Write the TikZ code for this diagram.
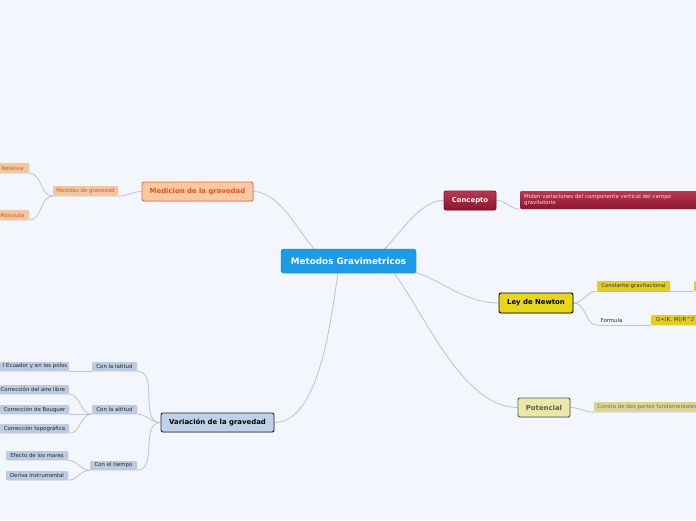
\documentclass[tikz,border=0pt]{standalone}
\usepackage{fontspec}
\setmainfont{DejaVu Sans}
\usetikzlibrary{positioning, calc, shadows, backgrounds}
\definecolor{mmbg}{HTML}{F3F6FD}
\definecolor{mmlink}{HTML}{BCC2D0}
\definecolor{mmblue}{HTML}{1E9AE6}
\definecolor{mmred}{HTML}{B3203C}
\definecolor{mmreddark}{HTML}{8C1530}
\definecolor{mmyellow}{HTML}{E6D61E}
\definecolor{mmyellowleaf}{HTML}{E2CE22}
\definecolor{mmpale}{HTML}{EEE8A8}
\definecolor{mmkhaki}{HTML}{DCD492}
\definecolor{mmpeach}{HTML}{F9C9A1}
\definecolor{mmorange}{HTML}{F06A3C}
\definecolor{mmorangetext}{HTML}{EE4F1E}
\definecolor{mmtan}{HTML}{EEC8A2}
\definecolor{mmsky}{HTML}{BFD0EA}
\definecolor{mmskyleaf}{HTML}{BDCBE2}

\begin{document}
\begin{tikzpicture}[
  x=1pt, y=-1pt,
  root/.style={rectangle, fill=mmblue, draw=mmblue!85!black, rounded corners=2.5pt, minimum width=135pt, minimum height=24pt, inner sep=0pt, text=white, font=\bfseries\fontsize{8.8}{10}\selectfont, drop shadow={shadow xshift=0.5pt, shadow yshift=-0.8pt, opacity=0.2}},
  topic/.style={rectangle, rounded corners=2pt, minimum height=19pt, inner sep=0pt, line width=0.9pt, font=\bfseries\fontsize{6.9}{8}\selectfont, drop shadow={shadow xshift=0.5pt, shadow yshift=-0.8pt, opacity=0.25}},
  plainleaf/.style={rectangle, minimum height=10pt, inner sep=0pt, font=\fontsize{5.4}{7}\selectfont},
  leaf/.style={plainleaf, rounded corners=1pt, drop shadow={shadow xshift=0.4pt, shadow yshift=-0.6pt, opacity=0.2}},
  bleaf/.style={leaf, fill=mmskyleaf, text=black!85, minimum height=9pt},
  link/.style={draw=mmlink, line width=0.8pt},
]
  % Canvas
  \begin{scope}[on background layer]
    \fill[mmbg] (0,0) rectangle (696,520);
  \end{scope}
  \useasboundingbox (0,0) rectangle (696,520);

  % Central topic
  \node[root] (root) at (348.5,261) {Metodos Gravimetricos};

  % Right branches
  \node[topic, top color=mmred!90!white, bottom color=mmreddark, draw=mmreddark, text=white, minimum width=52pt] (concept) at (470,200.5) {Concepto};
  \node[leaf, top color=mmred!90!white, bottom color=mmreddark, text=white!85!mmred, anchor=west, minimum width=190pt, minimum height=18pt, text width=182pt, inner xsep=4pt, align=left, font=\fontsize{5.4}{6.8}\selectfont] (conceptdef) at (520,200) {Miden variaciones del componente vertical del campo\\gravitatorio};

  \node[topic, fill=mmyellow, draw=black, text=black, minimum width=74pt, minimum height=20pt] (newton) at (536,303) {Ley de Newton};
  \node[leaf, fill=mmyellowleaf, text=black!80, minimum width=73pt] (constant) at (633.5,286) {Constante gravitacional};
  \node[leaf, fill=mmyellowleaf, anchor=west, minimum width=40pt] (constcut) at (694,286) {};
  \node[plainleaf, text=black!85, minimum width=27pt] (formula) at (611.5,320) {Formula};
  \node[leaf, fill=mmyellowleaf, text=black!80, anchor=west, minimum width=48pt] (formulaval) at (651,320) {G=(K. M)/R\^{}2};

  \node[topic, fill=mmpale, draw=black!65, text=black!65, minimum width=52pt] (potencial) at (544,407.5) {Potencial};
  \node[leaf, fill=mmkhaki, text=black!55, anchor=west, minimum width=106pt] (consta) at (594,407) {Consta de dos partes fundamentales};

  % Left branches
  \node[topic, fill=mmpeach, draw=mmorange, text=mmorangetext, minimum width=111pt] (medicion) at (197.5,191.5) {Medicion de la gravedad};
  \node[leaf, fill=mmtan, text=mmorangetext, minimum width=65pt] (medidas) at (85.5,191) {Medidas de gravedad};
  \node[leaf, fill=mmtan, text=mmorangetext, minimum width=33pt] (relativa) at (12.5,168) {Relativa};
  \node[leaf, fill=mmtan, text=mmorangetext, minimum width=33pt] (absoluta) at (12.5,215) {Absoluta};

  \node[topic, fill=mmsky, draw=black!85, text=black, minimum width=113pt] (variacion) at (217.5,422.5) {Variación de la gravedad};
  \node[bleaf, minimum width=45pt] (latitud) at (114.5,366.5) {Con la latitud};
  \node[bleaf, anchor=east, minimum width=80pt, text width=77pt, align=right] (ecuador) at (69,366.5) {l Ecuador y en los polos};
  \node[bleaf, minimum width=45pt] (altitud) at (114.5,409.5) {Con la altitud};
  \node[bleaf, anchor=east, minimum width=72pt] (corraire) at (69,389.5) {Corrección del aire libre};
  \node[bleaf, minimum width=69pt] (corrbouguer) at (34.5,409.5) {Corrección de Bouguer};
  \node[bleaf, minimum width=69pt] (corrtopo) at (34.5,428.5) {Corrección topográfica};
  \node[bleaf, minimum width=47pt] (tiempo) at (113.5,465.5) {Con el tiempo};
  \node[bleaf, minimum width=62pt] (mares) at (37,455.5) {Efecto de los mares};
  \node[bleaf, minimum width=62pt] (deriva) at (37,475.5) {Deriva instrumental};

  % Connectors
  \begin{scope}[on background layer]
  \draw[link] ($(root.north)+(13,0)$) to[out=-60, in=180] (concept.west);
  \draw[link] (concept.east) to[out=0, in=180] (conceptdef.south west);
  \draw[link] ($(root.south)+(30,0)$) to[out=20, in=180] (newton.west);
  \draw[link] (newton.east) to[out=0, in=180] (constant.south west);
  \draw[link] (constant.south west) -- (constcut.south west);
  \draw[link] (newton.east) to[out=0, in=180] (formula.south west);
  \draw[link] (formula.south west) -- (formulaval.south west);
  \draw[link] ($(root.south)+(8,0)$) to[out=65, in=180] (potencial.west);
  \draw[link] (potencial.east) to[out=0, in=180] (consta.south west);

  \draw[link] ($(root.north)+(-13,0)$) to[out=-120, in=0] (medicion.east);
  \draw[link] (medicion.west) to[out=180, in=0] (medidas.south east);
  \draw[link] (medidas.south west) to[out=180, in=0] (relativa.south east);
  \draw[link] (medidas.south west) to[out=180, in=0] (absoluta.south east);

  \draw[link] ($(root.south)+(-3,0)$) to[out=100, in=0] (variacion.east);
  \draw[link] (variacion.west) to[out=180, in=0] (latitud.south east);
  \draw[link] (latitud.south west) -- (ecuador.south east);
  \draw[link] (variacion.west) to[out=180, in=0] (altitud.south east);
  \draw[link] (altitud.south west) to[out=180, in=0] (corraire.south east);
  \draw[link] (altitud.south west) -- (corrbouguer.south east);
  \draw[link] (altitud.south west) to[out=180, in=0] (corrtopo.south east);
  \draw[link] (variacion.west) to[out=180, in=0] (tiempo.south east);
  \draw[link] (tiempo.south west) to[out=180, in=0] (mares.south east);
  \draw[link] (tiempo.south west) to[out=180, in=0] (deriva.south east);
  \end{scope}
\end{tikzpicture}
\end{document}
